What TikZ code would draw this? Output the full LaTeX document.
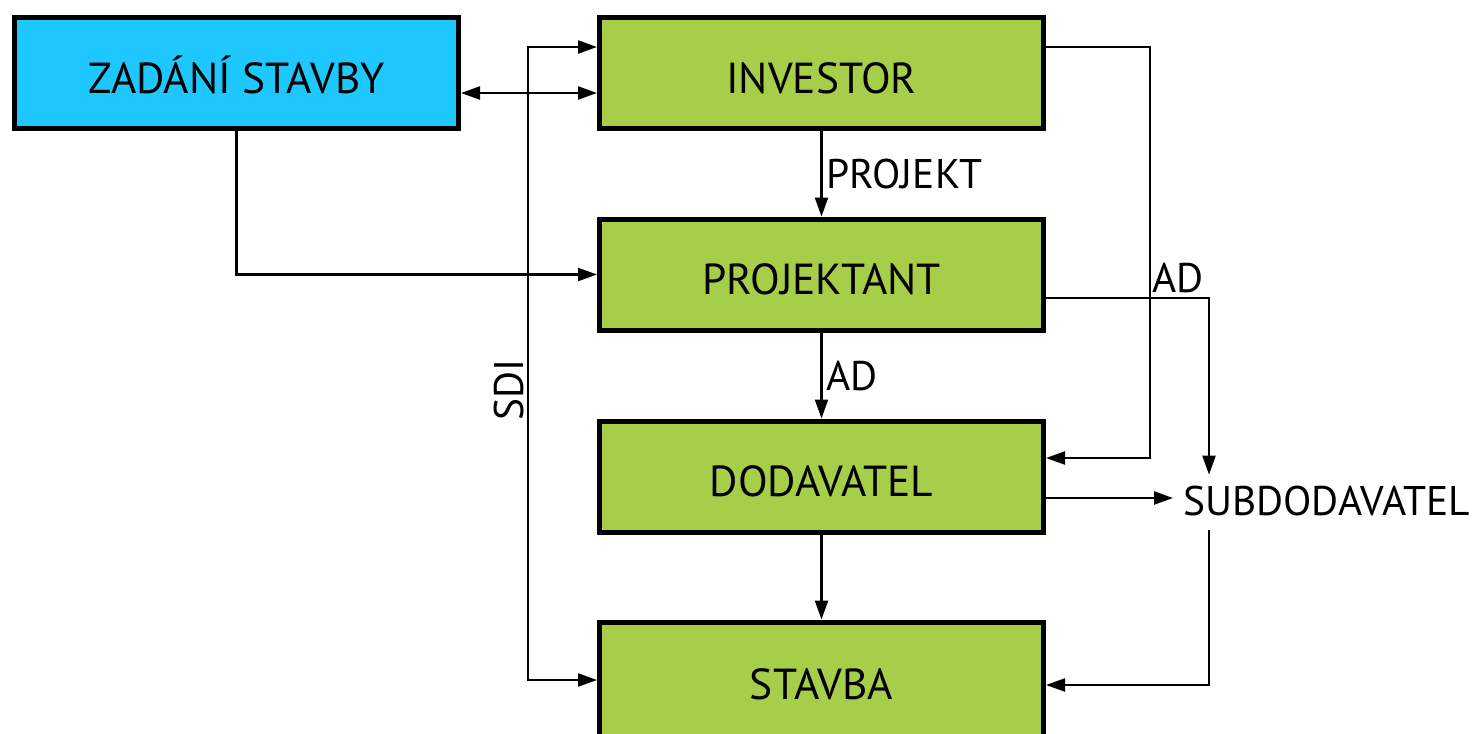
\documentclass[tikz,border=0pt]{standalone}
\usepackage{fontspec}
\setmainfont{PT Sans}
\usepackage{xcolor}
\usetikzlibrary{positioning,calc,arrows.meta}

\definecolor{zadblue}{RGB}{30,200,255}
\definecolor{boxgreen}{RGB}{166,206,72}

\tikzset{
    >={Triangle[length=9.5pt,width=6.5pt]},
    box/.style={draw=black, line width=2.5pt, minimum width=222pt, minimum height=55.5pt,
        inner sep=0pt, text height=20pt, text depth=0pt, font=\fontsize{21.7}{25}\selectfont},
    conn/.style={line width=1.1pt},
    lbl/.style={font=\fontsize{20.7}{24}\selectfont, inner sep=2pt}
}

\begin{document}
\begin{tikzpicture}[x=0.5pt, y=-0.5pt]
    \useasboundingbox (0,0) rectangle (1474,734);

    % Boxes
    \node[box, fill=zadblue] (zad) at (236.5,73) {ZADÁNÍ STAVBY};
    \node[box, fill=boxgreen] (inv) at (821.5,73) {INVESTOR};
    \node[box, fill=boxgreen] (pro) at (821.5,274.5) {PROJEKTANT};
    \node[box, fill=boxgreen] (dod) at (821.5,476.5) {DODAVATEL};
    \node[box, fill=boxgreen, minimum height=57pt] (sta) at (821.5,679) {STAVBA};
    \node[lbl, anchor=base west, inner xsep=5pt, inner ysep=0pt, text height=20pt, text depth=7.5pt]
        (sub) at (1173,515) {SUBDODAVATEL};

    % Bends
    \coordinate (sdi) at (528,390);
    \coordinate (invr) at (1150,300);
    \coordinate (pror) at (1209,400);

    % Left side
    \draw[conn,<->] ([yshift=-10pt]zad.east) -- ([yshift=-10pt]inv.west);
    \draw[conn,<->] ([yshift=13pt]inv.west) -| (sdi) |- ([yshift=-0.5pt]sta.west);
    \node[lbl, rotate=90, anchor=south] at (sdi) {SDI};
    \draw[conn,->] (zad.south) |- (pro.west);

    % Middle column
    \draw[conn,->] (inv.south) -- node[lbl, right] {PROJEKT} (pro.north);
    \draw[conn,->] (pro.south) -- node[lbl, right] {AD} (dod.north);
    \draw[conn,->] (dod.south) -- (sta.north);

    % Right side
    \draw[conn,->] ([yshift=13pt]inv.east) -| (invr) |- ([yshift=9.25pt]dod.east);
    \draw[conn,->] ([yshift=-11.75pt]pro.east) -| node[lbl, pos=0.5, anchor=south east] {AD} (pror |- sub.north);
    \draw[conn,->] ([yshift=-10.75pt]dod.east) coordinate (d1) -- (d1 -| sub.west);
    \draw[conn,->] (pror |- sub.south) |- ([yshift=-3pt]sta.east);
\end{tikzpicture}
\end{document}
